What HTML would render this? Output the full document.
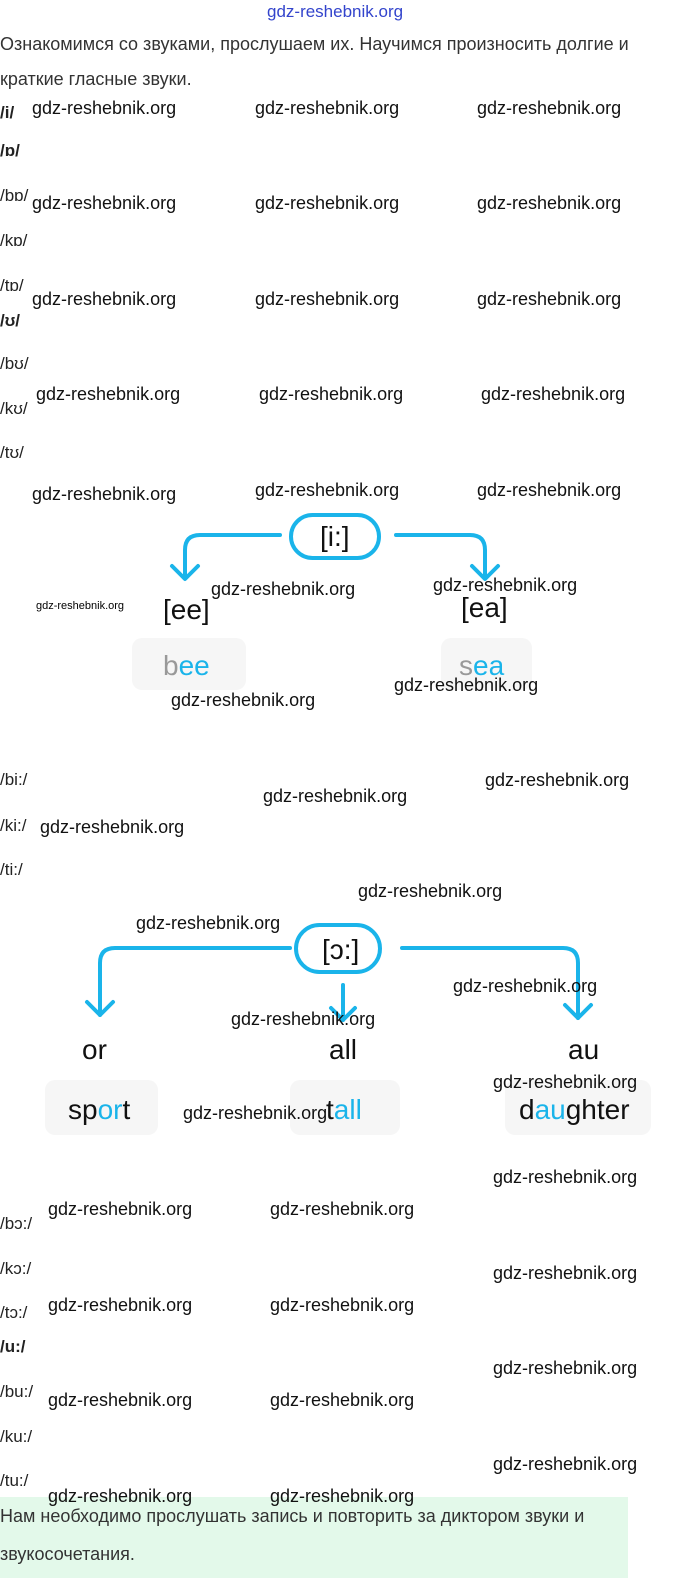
<!DOCTYPE html>
<html><head><meta charset="utf-8"><style>
body{margin:0;width:680px;height:1578px;position:relative;background:#fff;overflow:hidden;font-family:"Liberation Sans",sans-serif}
.a{position:absolute;white-space:nowrap;line-height:1}
.w{font-family:"Liberation Sans Narrow","Liberation Sans",sans-serif;font-size:18px;color:#111}
.t{font-size:18px;color:#333}
.p{font-size:17px;color:#222}
.b{font-weight:bold}
.box{position:absolute;background:#f6f6f6;border-radius:10px}
.big{font-size:28px;color:#111}
.c{color:#1ab4ea}
.g{color:#999}
</style></head><body>
<div class="a" style="left:267px;top:3px;font-size:17px;color:#3344cc">gdz-reshebnik.org</div>
<div class="a t" style="left:0;top:35px">Ознакомимся со звуками, прослушаем их. Научимся произносить долгие и</div>
<div class="a t" style="left:0;top:70px">краткие гласные звуки.</div>

<div class="a p b" style="left:0;top:104px">/i/</div>
<div class="a p b" style="left:0;top:142px">/ɒ/</div>
<div class="a p" style="left:0;top:187px">/bɒ/</div>
<div class="a p" style="left:0;top:232px">/kɒ/</div>
<div class="a p" style="left:0;top:277px">/tɒ/</div>
<div class="a p b" style="left:0;top:312px">/ʊ/</div>
<div class="a p" style="left:0;top:355px">/bʊ/</div>
<div class="a p" style="left:0;top:400px">/kʊ/</div>
<div class="a p" style="left:0;top:444px">/tʊ/</div>

<div class="a w" style="left:32px;top:99px">gdz-reshebnik.org</div>
<div class="a w" style="left:255px;top:99px">gdz-reshebnik.org</div>
<div class="a w" style="left:477px;top:99px">gdz-reshebnik.org</div>
<div class="a w" style="left:32px;top:194px">gdz-reshebnik.org</div>
<div class="a w" style="left:255px;top:194px">gdz-reshebnik.org</div>
<div class="a w" style="left:477px;top:194px">gdz-reshebnik.org</div>
<div class="a w" style="left:32px;top:290px">gdz-reshebnik.org</div>
<div class="a w" style="left:255px;top:290px">gdz-reshebnik.org</div>
<div class="a w" style="left:477px;top:290px">gdz-reshebnik.org</div>
<div class="a w" style="left:36px;top:385px">gdz-reshebnik.org</div>
<div class="a w" style="left:259px;top:385px">gdz-reshebnik.org</div>
<div class="a w" style="left:481px;top:385px">gdz-reshebnik.org</div>
<div class="a w" style="left:32px;top:485px">gdz-reshebnik.org</div>
<div class="a w" style="left:255px;top:481px">gdz-reshebnik.org</div>
<div class="a w" style="left:477px;top:481px">gdz-reshebnik.org</div>

<svg style="position:absolute;left:0;top:0" width="680" height="1578">
<g fill="none" stroke="#1ab4ea" stroke-width="4" stroke-linecap="round" stroke-linejoin="round">
<rect x="291" y="515" width="88" height="43" rx="21.5"/>
<path d="M280 535 H200 Q185 535 185 550 V578"/>
<path d="M172 566 L185 579 L198 566"/>
<path d="M396 535 H470 Q485 535 485 550 V578"/>
<path d="M472 566 L485 579 L498 566"/>
<rect x="296" y="925" width="84" height="47" rx="23.5"/>
<path d="M290 948 H115 Q100 948 100 963 V1015"/>
<path d="M87 1002 L100 1015 L113 1002"/>
<path d="M343 985 V1020"/>
<path d="M331 1008 L343 1020 L355 1008"/>
<path d="M402 948 H563 Q578 948 578 963 V1018"/>
<path d="M565 1005 L578 1018 L591 1005"/>
</g></svg>
<div class="a big" style="left:320px;top:523px">[i:]</div>
<div class="a big" style="left:163px;top:596px">[ee]</div>
<div class="a big" style="left:461px;top:594px">[ea]</div>
<div class="box" style="left:132px;top:638px;width:114px;height:52px"></div>
<div class="box" style="left:441px;top:638px;width:91px;height:52px"></div>
<div class="a big" style="left:163px;top:652px"><span class="g">b</span><span class="c">ee</span></div>
<div class="a big" style="left:459px;top:652px"><span class="g">s</span><span class="c">ea</span></div>
<div class="a w" style="left:211px;top:580px">gdz-reshebnik.org</div>
<div class="a w" style="left:433px;top:576px">gdz-reshebnik.org</div>
<div class="a" style="left:36px;top:601px;font-size:11px">gdz-reshebnik.org</div>
<div class="a w" style="left:394px;top:676px">gdz-reshebnik.org</div>
<div class="a w" style="left:171px;top:691px">gdz-reshebnik.org</div>

<div class="a p" style="left:0;top:771px">/bi:/</div>
<div class="a p" style="left:0;top:817px">/ki:/</div>
<div class="a p" style="left:0;top:861px">/ti:/</div>
<div class="a w" style="left:485px;top:771px">gdz-reshebnik.org</div>
<div class="a w" style="left:263px;top:787px">gdz-reshebnik.org</div>
<div class="a w" style="left:40px;top:818px">gdz-reshebnik.org</div>
<div class="a w" style="left:358px;top:882px">gdz-reshebnik.org</div>
<div class="a w" style="left:136px;top:914px">gdz-reshebnik.org</div>

<div class="a big" style="left:322px;top:936px">[ɔ:]</div>
<div class="a big" style="left:82px;top:1036px">or</div>
<div class="a big" style="left:329px;top:1036px">all</div>
<div class="a big" style="left:568px;top:1036px">au</div>
<div class="box" style="left:45px;top:1080px;width:113px;height:55px"></div>
<div class="box" style="left:290px;top:1080px;width:110px;height:55px"></div>
<div class="box" style="left:505px;top:1080px;width:146px;height:55px"></div>
<div class="a big" style="left:68px;top:1096px">sp<span class="c">or</span>t</div>
<div class="a big" style="left:326px;top:1096px">t<span class="c">all</span></div>
<div class="a big" style="left:519px;top:1096px">d<span class="c">au</span>ghter</div>
<div class="a w" style="left:453px;top:977px">gdz-reshebnik.org</div>
<div class="a w" style="left:231px;top:1010px">gdz-reshebnik.org</div>
<div class="a w" style="left:493px;top:1073px">gdz-reshebnik.org</div>
<div class="a w" style="left:183px;top:1104px">gdz-reshebnik.org</div>

<div class="a w" style="left:493px;top:1168px">gdz-reshebnik.org</div>
<div class="a w" style="left:48px;top:1200px">gdz-reshebnik.org</div>
<div class="a w" style="left:270px;top:1200px">gdz-reshebnik.org</div>
<div class="a w" style="left:493px;top:1264px">gdz-reshebnik.org</div>
<div class="a w" style="left:48px;top:1296px">gdz-reshebnik.org</div>
<div class="a w" style="left:270px;top:1296px">gdz-reshebnik.org</div>
<div class="a w" style="left:493px;top:1359px">gdz-reshebnik.org</div>
<div class="a w" style="left:48px;top:1391px">gdz-reshebnik.org</div>
<div class="a w" style="left:270px;top:1391px">gdz-reshebnik.org</div>
<div class="a w" style="left:493px;top:1455px">gdz-reshebnik.org</div>
<div class="a p" style="left:0;top:1215px">/bɔ:/</div>
<div class="a p" style="left:0;top:1260px">/kɔ:/</div>
<div class="a p" style="left:0;top:1304px">/tɔ:/</div>
<div class="a p b" style="left:0;top:1338px">/u:/</div>
<div class="a p" style="left:0;top:1383px">/bu:/</div>
<div class="a p" style="left:0;top:1428px">/ku:/</div>
<div class="a p" style="left:0;top:1472px">/tu:/</div>

<div style="position:absolute;left:0;top:1497px;width:628px;height:81px;background:#e3f9ea"></div>
<div class="a w" style="left:48px;top:1487px">gdz-reshebnik.org</div>
<div class="a w" style="left:270px;top:1487px">gdz-reshebnik.org</div>
<div class="a t" style="left:0;top:1507px">Нам необходимо прослушать запись и повторить за диктором звуки и</div>
<div class="a t" style="left:0;top:1545px">звукосочетания.</div>
</body></html>
